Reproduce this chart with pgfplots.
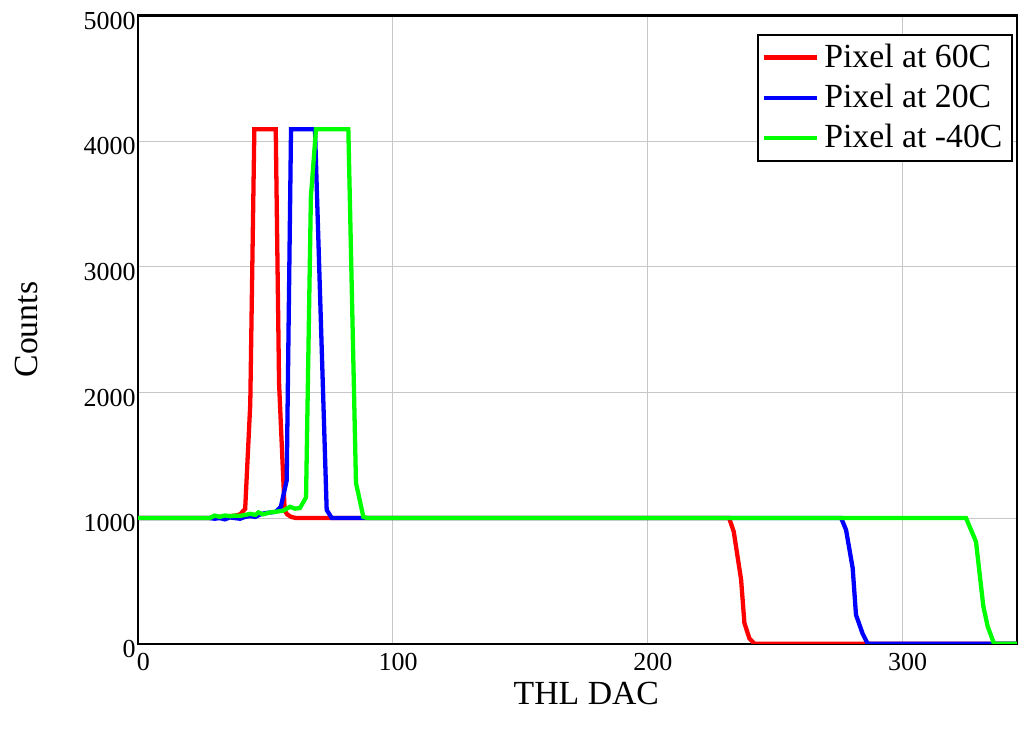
\documentclass[border=0pt]{standalone}
\usepackage{fontspec}
\setmainfont{Liberation Serif}
\usepackage{pgfplots}
\pgfplotsset{compat=1.18}
\begin{document}
\begin{tikzpicture}
\begin{axis}[
  scale only axis,
  width=338.5pt, height=242pt,
  xmin=0, xmax=345, ymin=0, ymax=5000,
  xtick={0,100,200,300},
  ytick={0,1000,2000,3000,4000,5000},
  scaled ticks=false,
  /pgf/number format/1000 sep={},
  /pgf/number format/assume math mode=true,
  major tick length=0pt,
  grid=major,
  major grid style={line width=0.4pt, color=black!22},
  axis line style={line width=0.8pt, black},
  tick label style={font=\fontsize{10}{12}\selectfont},
  xticklabel style={xshift=2pt},
  yticklabel style={inner xsep=0.8pt, inner ysep=4.6pt, yshift=-2pt},
  xlabel={THL DAC},
  ylabel={Counts},
  every axis x label/.style={at={(axis description cs:0.51,-0.097)}, anchor=base, font=\fontsize{13}{15}\selectfont, text depth=11pt},
  every axis y label/.style={at={(axis description cs:-0.1147,0.5)}, rotate=90, anchor=base, inner ysep=5.8pt, font=\fontsize{13}{15}\selectfont},
  legend style={at={(axis description cs:0.995,0.971)}, anchor=north east,
    draw=black, line width=0.8pt, font=\fontsize{13}{15}\selectfont,
    inner xsep=1.5pt, inner ysep=1.5pt, row sep=1pt,
    cells={anchor=west}},
  legend image code/.code={\draw[#1, line width=1.6pt] (0cm,0cm) -- (0.72cm,0cm);},
]
\addplot[red, line width=1.65pt] coordinates {
(0,1000)(28,1000)(30,1010)(34,1012)(38,1020)(40,1030)(42,1073)(44,1910)(45.6,4095)(54,4095)(55.3,2075)(57.5,1060)(58.5,1030)(60,1010)(62,1000)(232,1000)(233.8,893)(236.7,509)(238,164)(240,40)(242,0)(345,0)
};
\addlegendentry{Pixel at 60C}
\addplot[blue, line width=1.65pt] coordinates {
(0,1000)(28,1000)(30,995)(32,1000)(34,990)(36,1005)(38,1000)(40,995)(42,1010)(44,1015)(46,1010)(48,1030)(50,1040)(52,1045)(54,1050)(56,1090)(58.3,1300)(60,4095)(69.4,4095)(74,1065)(76,1000)(276,1000)(277.9,906)(280.5,602)(281.8,230)(284.4,80)(286.4,0)(345,0)
};
\addlegendentry{Pixel at 20C}
\addplot[green, line width=1.65pt] coordinates {
(0,1000)(28,1000)(30,1020)(32,1010)(34,1021)(36,1015)(38,1020)(40,1018)(42,1025)(44,1034)(46,1025)(47.2,1045)(49,1030)(51.8,1045)(55,1053)(57,1060)(59.6,1090)(61.6,1075)(63.5,1080)(65.9,1165)(67.8,3556)(69.8,4095)(82.5,4095)(85.5,1280)(88.4,1010)(90,1000)(325,1000)(328.9,813)(331.8,297)(333.5,138)(336,0)(345,0)
};
\addlegendentry{Pixel at -40C}
\end{axis}
\end{tikzpicture}
\end{document}
